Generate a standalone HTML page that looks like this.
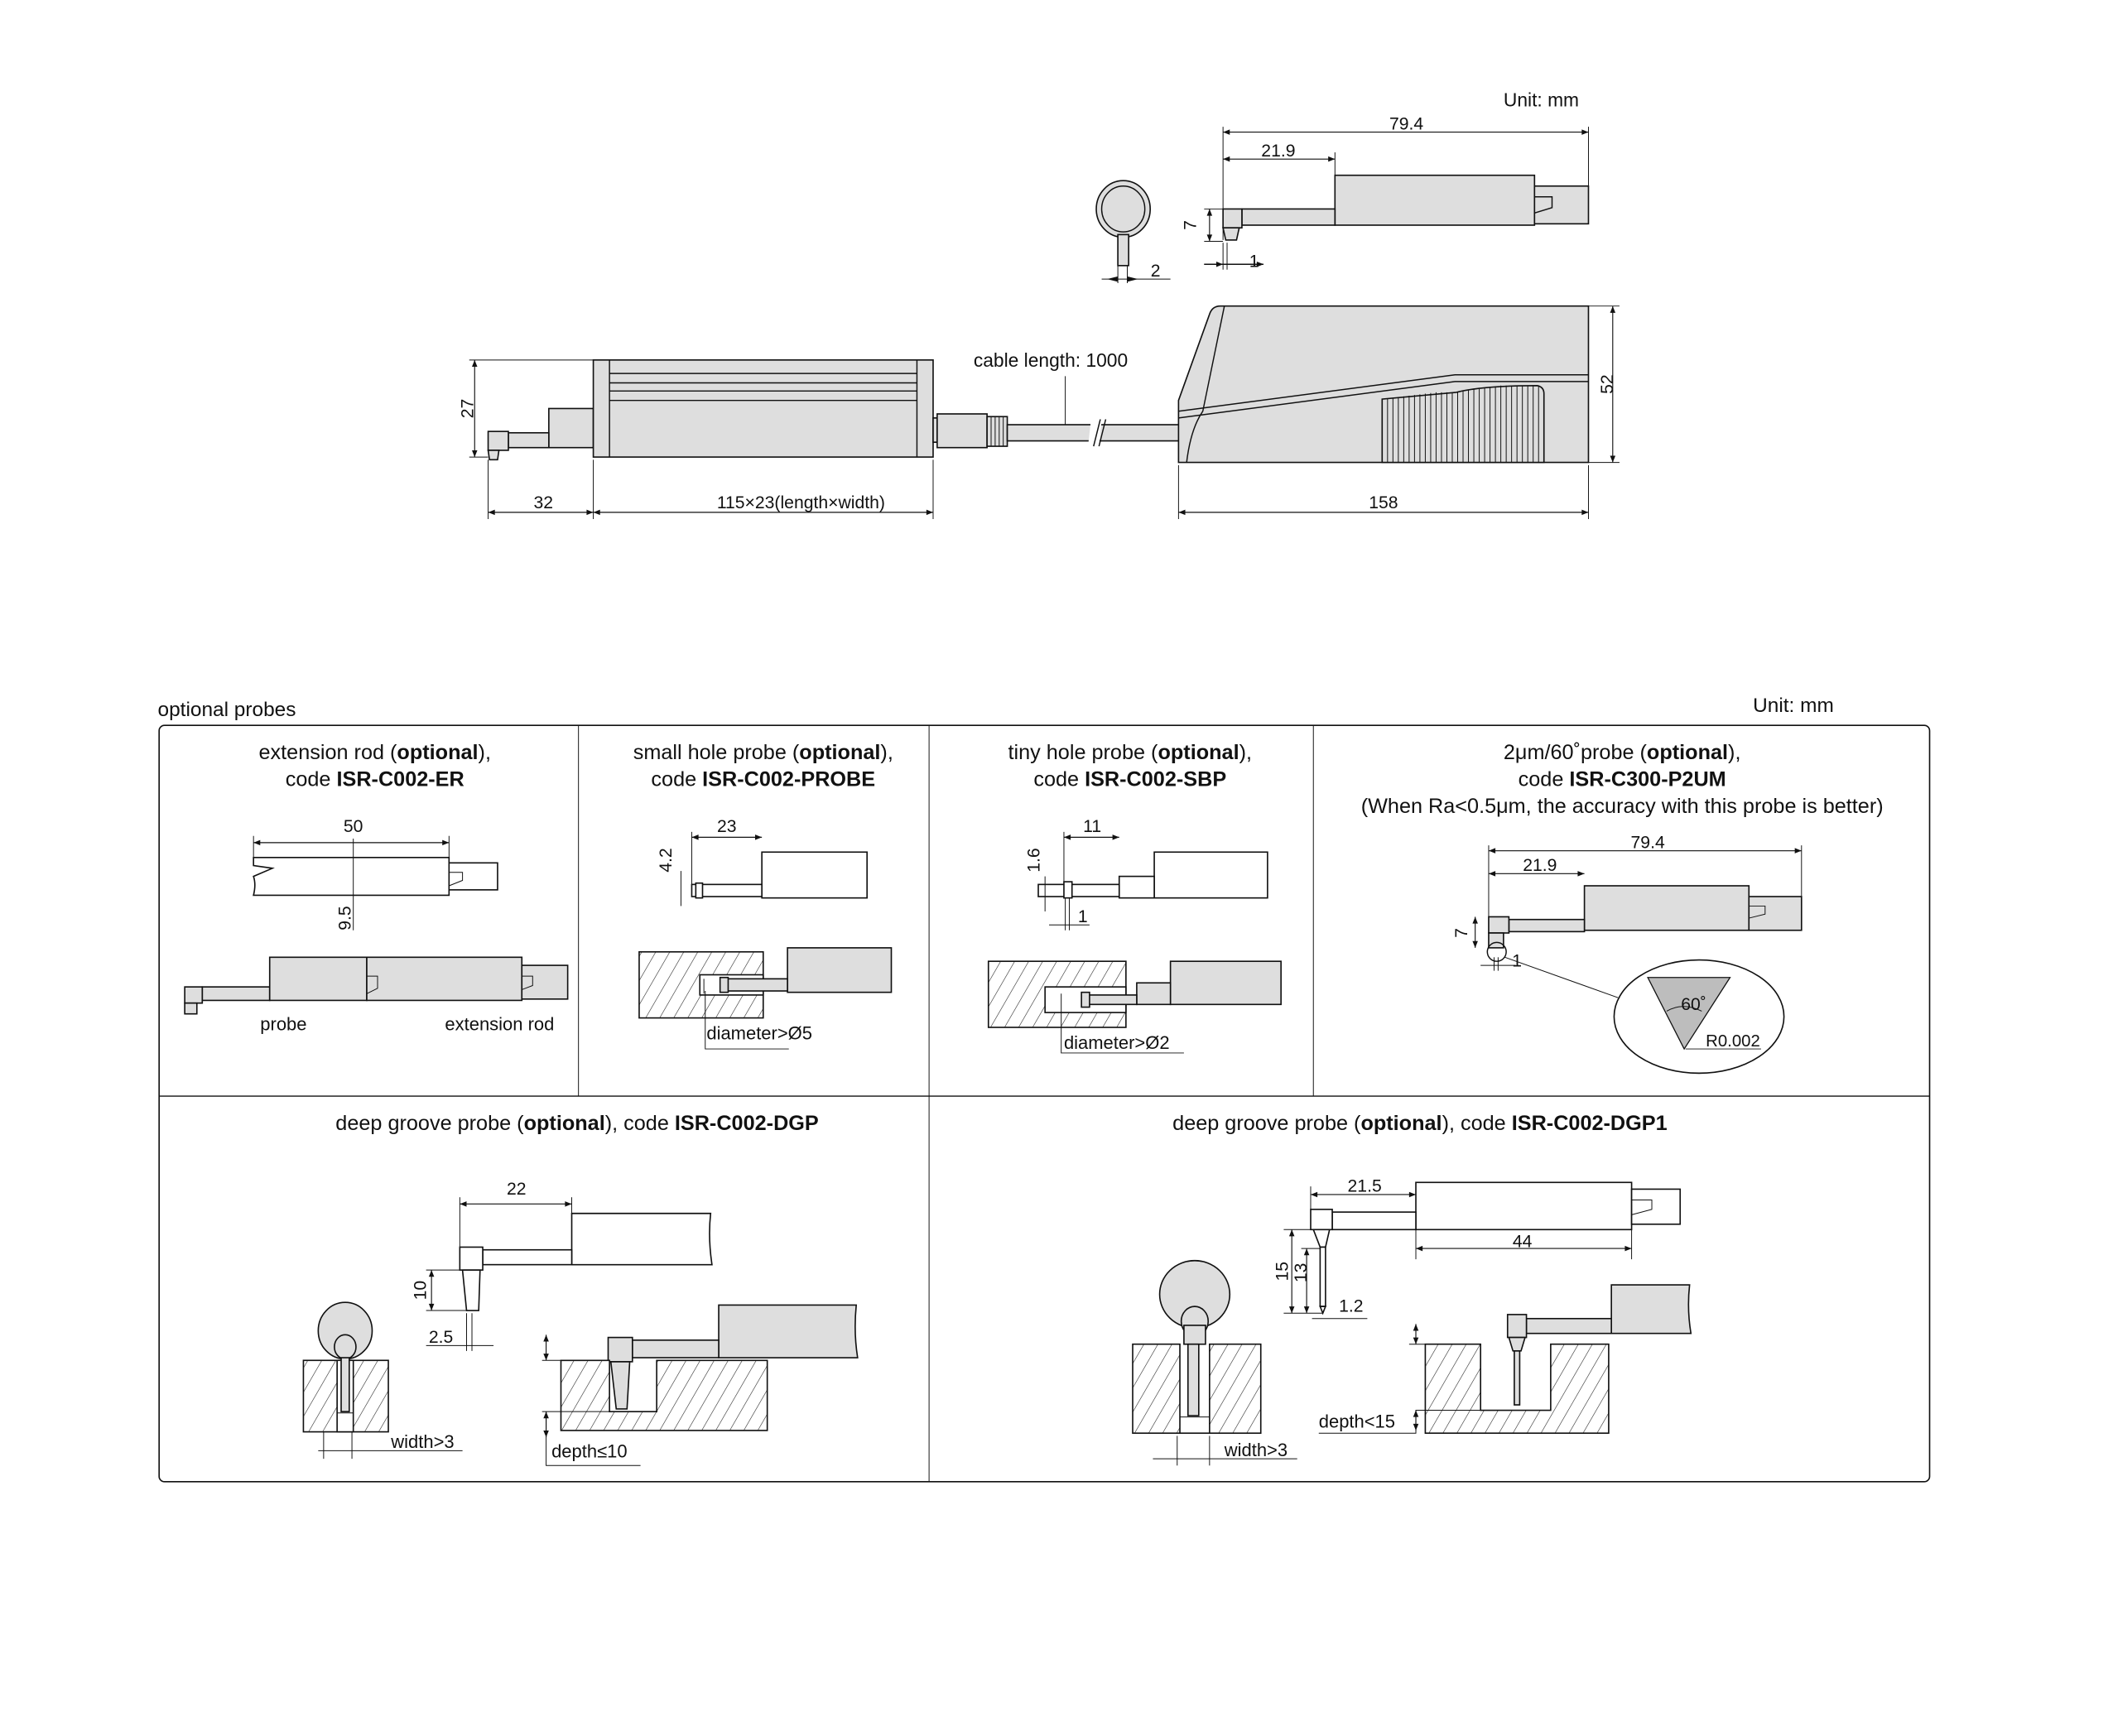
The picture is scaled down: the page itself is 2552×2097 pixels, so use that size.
<!DOCTYPE html>
<html><head><meta charset="utf-8"><style>
html,body{margin:0;padding:0;background:#fff}
svg{display:block}
text{font-family:"Liberation Sans",Arial,sans-serif;fill:#111}
.g{fill:#dedede;stroke:#111;stroke-width:1}
.w{fill:#fff;stroke:#111;stroke-width:1}
.l{fill:none;stroke:#111;stroke-width:0.9}
.t{fill:none;stroke:#111;stroke-width:0.6}
.d{fill:none;stroke:#111;stroke-width:0.7;marker-start:url(#a);marker-end:url(#a)}
.h{fill:url(#hatch);stroke:#111;stroke-width:1}
.tt{font-size:15.5px;text-anchor:middle}
.dm{font-size:13px;text-anchor:middle}
b,.b{font-weight:bold}
</style></head><body>
<svg width="2552" height="2097" viewBox="0 0 1567 1287.6" preserveAspectRatio="none" xmlns="http://www.w3.org/2000/svg">
<defs>
<marker id="a" viewBox="0 0 10 10" refX="10" refY="5" markerWidth="8" markerHeight="5" markerUnits="userSpaceOnUse" orient="auto-start-reverse"><path d="M0,1 L10,5 L0,9 z" fill="#111"/></marker>
<pattern id="hatch" patternUnits="userSpaceOnUse" width="9" height="9" patternTransform="rotate(30)"><rect width="9" height="9" fill="#fff"/><line x1="0" y1="0" x2="0" y2="9" stroke="#222" stroke-width="0.7"/></pattern>
</defs>

<!-- ===== TOP ===== -->
<text x="1115" y="79" font-size="14">Unit: mm</text>
<line class="t" x1="907" y1="94" x2="907" y2="178"/><line class="t" x1="1178" y1="94" x2="1178" y2="138"/><line class="t" x1="990" y1="113" x2="990" y2="130"/>
<line class="d" x1="907" y1="98" x2="1178" y2="98"/><text class="dm" x="1043" y="96">79.4</text>
<line class="d" x1="907" y1="118" x2="990" y2="118"/><text class="dm" x="948" y="116">21.9</text>
<rect class="g" x="990" y="130" width="148" height="37"/>
<rect class="g" x="1138" y="138" width="40" height="28"/>
<polyline class="l" points="1138,146 1151,146 1151,154 1138,158"/>
<rect class="g" x="921" y="155" width="69" height="12"/>
<rect class="g" x="907" y="155" width="14" height="14"/>
<polygon class="g" points="907,169 919,169 917,178 909,178"/>
<line class="t" x1="893" y1="155" x2="907" y2="155"/><line class="t" x1="893" y1="179" x2="907" y2="179"/>
<line class="d" x1="897" y1="155" x2="897" y2="179"/><text class="dm" transform="translate(887,167) rotate(-90)">7</text>
<line class="t" x1="907" y1="180" x2="907" y2="200"/><line class="t" x1="910" y1="180" x2="910" y2="200"/>
<line class="l" x1="893" y1="196" x2="937" y2="196" marker-end="url(#a)"/><line class="t" x1="893" y1="196" x2="907" y2="196" style="marker-end:url(#a)"/>
<text class="dm" x="930" y="198">1</text>
<ellipse class="g" cx="833" cy="155" rx="20" ry="21"/><ellipse class="l" cx="833" cy="155" rx="16" ry="17"/>
<rect class="g" x="829" y="174" width="8" height="23"/>
<line class="t" x1="829" y1="197" x2="829" y2="210"/><line class="t" x1="836" y1="197" x2="836" y2="210"/>
<line class="t" x1="817" y1="207" x2="868" y2="207"/>
<path d="M821,207 L829,205 L829,209 z M844,207 L836,205 L836,209 z" fill="#111"/>
<text class="dm" x="857" y="205">2</text>

<line class="t" x1="348" y1="267" x2="440" y2="267"/><line class="t" x1="348" y1="339" x2="362" y2="339"/>
<line class="d" x1="352" y1="267" x2="352" y2="339"/><text class="dm" transform="translate(351,303) rotate(-90)">27</text>
<rect class="g" x="407" y="303" width="33" height="29"/>
<rect class="g" x="377" y="321" width="30" height="11"/>
<rect class="g" x="362" y="320" width="15" height="14"/>
<polygon class="g" points="362,334 370,334 369,341 363,341"/>
<rect class="g" x="440" y="267" width="252" height="72"/>
<line class="l" x1="452" y1="267" x2="452" y2="339"/><line class="l" x1="680" y1="267" x2="680" y2="339"/>
<line class="l" x1="452" y1="277" x2="680" y2="277"/><line class="l" x1="452" y1="284" x2="680" y2="284"/><line class="l" x1="452" y1="290" x2="680" y2="290"/><line class="l" x1="452" y1="297" x2="680" y2="297"/>
<rect class="g" x="692" y="310" width="3" height="18"/>
<rect class="g" x="695" y="307" width="37" height="25"/>
<rect class="g" x="732" y="309" width="15" height="22"/>
<path class="t" d="M735,309v22M738,309v22M741,309v22M744,309v22"/>
<rect class="g" x="747" y="315" width="132" height="12"/>
<path d="M809,312 L817,312 L815,330 L807,330z" fill="#fff"/>
<line class="l" x1="811" y1="331" x2="816" y2="311"/><line class="l" x1="815" y1="331" x2="820" y2="311"/>
<line class="t" x1="790" y1="279" x2="790" y2="315"/>
<text x="722" y="272" font-size="14">cable length: 1000</text>
<line class="t" x1="362" y1="341" x2="362" y2="385"/><line class="t" x1="440" y1="341" x2="440" y2="385"/><line class="t" x1="692" y1="341" x2="692" y2="385"/>
<line class="d" x1="362" y1="380" x2="440" y2="380"/><text class="dm" x="403" y="377">32</text>
<line class="d" x1="440" y1="380" x2="692" y2="380"/><text class="dm" x="594" y="377">115×23(length×width)</text>

<path class="g" d="M874,343 L874,297 L897,233 Q899,227 905,227 L1178,227 L1178,343 Z"/>
<path class="l" d="M908,227 L892,305 Q883,318 880,343"/>
<polyline class="l" points="874,305 1079,278 1178,278"/>
<polyline class="l" points="874,310 1079,283 1178,283"/>
<path class="g" d="M1025,343 L1025,296 L1080,291 Q1100,286 1140,286 Q1145,287 1145,292 L1145,343 Z"/>
<path class="t" d="M1029,295.5v47.5M1033,295v48M1037,294.5v48.5M1041,294v49M1045,293.5v49.5M1049,293v50M1053,292.5v50.5M1057,292v51M1061,291.5v51.5M1065,291v52M1069,291v52M1073,291v52M1077,291v52M1081,290.5v52.5M1085,290v53M1089,289v54M1093,288.5v54.5M1097,288v55M1101,287.5v55.5M1105,287v56M1109,286.5v56.5M1113,286v57M1117,286v57M1121,286v57M1125,286v57M1129,286v57M1133,286v57M1137,286v57M1141,286v57"/>
<line class="t" x1="1178" y1="227" x2="1201" y2="227"/><line class="t" x1="1178" y1="343" x2="1201" y2="343"/>
<line class="d" x1="1196" y1="227" x2="1196" y2="343"/><text class="dm" transform="translate(1196,285) rotate(-90)">52</text>
<line class="t" x1="874" y1="345" x2="874" y2="385"/><line class="t" x1="1178" y1="345" x2="1178" y2="385"/>
<line class="d" x1="874" y1="380" x2="1178" y2="380"/><text class="dm" x="1026" y="377">158</text>

<!-- ===== TABLE ===== -->
<text x="117" y="531" font-size="15">optional probes</text>
<text x="1300" y="528" font-size="15">Unit: mm</text>
<rect x="118" y="538" width="1313" height="561" rx="4" fill="none" stroke="#111" stroke-width="1"/>
<line class="l" x1="118" y1="813" x2="1431" y2="813"/>
<line class="t" x1="429" y1="538" x2="429" y2="813"/><line class="t" x1="689" y1="538" x2="689" y2="1099"/><line class="t" x1="974" y1="538" x2="974" y2="813"/>

<text class="tt" x="278" y="563">extension rod (<tspan class="b">optional</tspan>),</text>
<text class="tt" x="278" y="583">code <tspan class="b">ISR-C002-ER</tspan></text>
<line class="d" x1="188" y1="625" x2="333" y2="625"/><text class="dm" x="262" y="617">50</text>
<line class="t" x1="188" y1="620" x2="188" y2="636"/><line class="t" x1="333" y1="620" x2="333" y2="636"/>
<path class="w" d="M188,636 L333,636 L333,664 L188,664 Q190,656 188,650 L202,644 L188,642 Z"/>
<rect class="w" x="333" y="640" width="36" height="20"/>
<polyline class="t" points="333,647 343,647 343,653 333,657"/>
<line class="t" x1="262" y1="622" x2="262" y2="690"/><text class="dm" transform="translate(260,681) rotate(-90)">9.5</text>
<rect class="g" x="150" y="732" width="50" height="10"/>
<rect class="g" x="137" y="732" width="13" height="12"/><rect class="g" x="137" y="744" width="9" height="8"/>
<rect class="g" x="200" y="710" width="72" height="32"/>
<rect class="g" x="272" y="710" width="115" height="32"/>
<polyline class="t" points="272,724 280,724 280,733 272,737"/>
<rect class="g" x="387" y="716" width="34" height="25"/>
<polyline class="t" points="387,724 395,724 395,731 387,734"/>
<text x="193" y="764" font-size="13.5">probe</text><text x="330" y="764" font-size="13.5">extension rod</text>

<text class="tt" x="566" y="563">small hole probe (<tspan class="b">optional</tspan>),</text>
<text class="tt" x="566" y="583">code <tspan class="b">ISR-C002-PROBE</tspan></text>
<line class="d" x1="513" y1="621" x2="565" y2="621"/><text class="dm" x="539" y="617">23</text>
<line class="t" x1="513" y1="617" x2="513" y2="660"/>
<rect class="w" x="565" y="632" width="78" height="34"/>
<rect class="w" x="513" y="656" width="52" height="9"/><rect class="w" x="516" y="655" width="5" height="11"/>
<line class="t" x1="505" y1="646" x2="505" y2="672"/><text class="dm" transform="translate(498,638) rotate(-90)">4.2</text>
<rect class="h" x="474" y="706" width="92" height="49"/>
<rect class="w" x="519" y="723" width="47" height="15"/>
<rect class="g" x="584" y="703" width="77" height="33"/>
<rect class="g" x="535" y="726" width="49" height="9"/><rect class="g" x="534" y="725" width="6" height="11"/>
<line class="t" x1="522" y1="726" x2="522" y2="737"/>
<polyline class="t" points="523,735 523,778 585,778"/><text x="524" y="771" font-size="13.5">diameter&gt;Ø5</text>

<text class="tt" x="838" y="563">tiny hole probe (<tspan class="b">optional</tspan>),</text>
<text class="tt" x="838" y="583">code <tspan class="b">ISR-C002-SBP</tspan></text>
<line class="d" x1="789" y1="621" x2="830" y2="621"/><text class="dm" x="810" y="617">11</text>
<line class="t" x1="789" y1="617" x2="789" y2="660"/>
<rect class="w" x="856" y="632" width="84" height="34"/>
<rect class="w" x="830" y="650" width="26" height="16"/>
<rect class="w" x="770" y="656" width="60" height="9"/><rect class="w" x="789" y="654" width="6" height="12"/>
<line class="t" x1="775" y1="650" x2="775" y2="676"/><text class="dm" transform="translate(771,638) rotate(-90)">1.6</text>
<line class="t" x1="790" y1="666" x2="790" y2="690"/><line class="t" x1="793" y1="666" x2="793" y2="690"/>
<line class="t" x1="778" y1="686" x2="808" y2="686"/><text class="dm" x="803" y="684">1</text>
<rect class="h" x="733" y="713" width="102" height="49"/>
<rect class="w" x="775" y="732" width="60" height="19"/>
<rect class="g" x="868" y="713" width="82" height="32"/>
<rect class="g" x="843" y="729" width="25" height="16"/>
<rect class="g" x="805" y="738" width="38" height="7"/><rect class="g" x="802" y="736" width="6" height="11"/>
<polyline class="t" points="787,737 787,781 878,781"/><text x="789" y="778" font-size="13.5">diameter&gt;Ø2</text>

<text class="tt" x="1203" y="563">2μm/60˚probe (<tspan class="b">optional</tspan>),</text>
<text class="tt" x="1203" y="583">code <tspan class="b">ISR-C300-P2UM</tspan></text>
<text class="tt" x="1203" y="603">(When Ra&lt;0.5μm, the accuracy with this probe is better)</text>
<line class="d" x1="1104" y1="631" x2="1336" y2="631"/><text class="dm" x="1222" y="629">79.4</text>
<line class="d" x1="1104" y1="648" x2="1175" y2="648"/><text class="dm" x="1142" y="646">21.9</text>
<line class="t" x1="1104" y1="627" x2="1104" y2="680"/><line class="t" x1="1336" y1="627" x2="1336" y2="665"/>
<rect class="g" x="1175" y="657" width="122" height="33"/>
<rect class="g" x="1297" y="665" width="39" height="25"/>
<polyline class="t" points="1297,672 1309,672 1309,678 1297,681"/>
<rect class="g" x="1119" y="682" width="56" height="9"/>
<rect class="g" x="1104" y="680" width="15" height="12"/><rect class="g" x="1104" y="692" width="11" height="11"/>
<line class="d" x1="1094" y1="680" x2="1094" y2="703"/><text class="dm" transform="translate(1088,692) rotate(-90)">7</text>
<circle class="l" cx="1110" cy="706" r="7"/>
<line class="t" x1="1108" y1="710" x2="1108" y2="720"/><line class="t" x1="1111" y1="710" x2="1111" y2="720"/>
<line class="t" x1="1098" y1="716" x2="1124" y2="716"/><text class="dm" x="1125" y="717">1</text>
<line class="t" x1="1116" y1="710" x2="1200" y2="740"/>
<ellipse class="w" cx="1260" cy="754" rx="63" ry="42"/>
<polygon points="1222,725 1283,725 1249,778" fill="#bdbdbd" stroke="#111" stroke-width="0.8"/>
<path class="t" d="M1236,750 Q1248,743 1262,750"/>
<text class="dm" x="1256" y="749">60˚</text>
<text x="1265" y="776" font-size="12.5">R0.002</text>
<line class="t" x1="1250" y1="778" x2="1306" y2="778"/>

<text class="tt" x="428" y="838">deep groove probe (<tspan class="b">optional</tspan>), code <tspan class="b">ISR-C002-DGP</tspan></text>
<line class="d" x1="341" y1="893" x2="424" y2="893"/><text class="dm" x="383" y="886">22</text>
<line class="t" x1="341" y1="888" x2="341" y2="925"/><line class="t" x1="424" y1="888" x2="424" y2="900"/>
<path class="w" d="M424,900 L527,900 Q525,918 528,938 L424,938 Z"/>
<rect class="w" x="358" y="927" width="66" height="11"/>
<rect class="w" x="341" y="925" width="17" height="17"/>
<polygon class="w" points="343,942 356,942 355,972 346,972"/>
<line class="t" x1="316" y1="942" x2="341" y2="942"/><line class="t" x1="316" y1="972" x2="346" y2="972"/>
<line class="d" x1="320" y1="942" x2="320" y2="972"/><text class="dm" transform="translate(316,957) rotate(-90)">10</text>
<line class="t" x1="346" y1="974" x2="346" y2="1002"/><line class="t" x1="350" y1="974" x2="350" y2="1002"/>
<line class="t" x1="316" y1="998" x2="366" y2="998"/><text class="dm" x="327" y="996">2.5</text>
<ellipse class="g" cx="256" cy="987" rx="20" ry="21"/>
<ellipse class="g" cx="256" cy="999" rx="8" ry="9"/>
<rect class="h" x="225" y="1009" width="63" height="53"/>
<rect class="w" x="250" y="1009" width="12" height="53" stroke="none"/>
<line class="t" x1="250" y1="1009" x2="250" y2="1048"/><line class="t" x1="262" y1="1009" x2="262" y2="1048"/>
<line class="t" x1="250" y1="1048" x2="262" y2="1048"/>
<rect class="g" x="253" y="1007" width="6" height="40"/>
<line class="t" x1="236" y1="1076" x2="343" y2="1076"/><line class="t" x1="240" y1="1062" x2="240" y2="1082"/><line class="t" x1="261" y1="1062" x2="261" y2="1082"/>
<text x="290" y="1074" font-size="13.5">width&gt;3</text>
<path class="g" d="M533,968 L635,968 Q633,988 636,1007 L533,1007 Z"/>
<rect class="g" x="469" y="994" width="64" height="13"/>
<rect class="g" x="451" y="992" width="18" height="18"/>
<polygon class="g" points="453,1010 467,1010 465,1045 457,1045"/>
<path class="h" d="M416,1009 L452,1009 L452,1047 L487,1047 L487,1009 L569,1009 L569,1061 L416,1061 Z"/>
<line class="t" x1="402" y1="1009" x2="416" y2="1009"/><line class="t" x1="402" y1="1047" x2="452" y2="1047"/>
<line class="d" x1="405" y1="990" x2="405" y2="1009"/><line class="d" x1="405" y1="1066" x2="405" y2="1047"/>
<polyline class="t" points="405,1047 405,1087 475,1087"/><text x="409" y="1081" font-size="13.5">depth≤10</text>

<text class="tt" x="1053" y="838">deep groove probe (<tspan class="b">optional</tspan>), code <tspan class="b">ISR-C002-DGP1</tspan></text>
<line class="d" x1="972" y1="886" x2="1050" y2="886"/><text class="dm" x="1012" y="884">21.5</text>
<line class="t" x1="972" y1="880" x2="972" y2="898"/>
<rect class="w" x="1050" y="877" width="160" height="35"/>
<rect class="w" x="1210" y="882" width="36" height="26"/>
<polyline class="t" points="1210,890 1225,890 1225,897 1210,901"/>
<rect class="w" x="988" y="899" width="62" height="13"/>
<rect class="w" x="972" y="897" width="16" height="15"/>
<polygon class="w" points="974,912 986,912 983,925 979,925"/>
<rect class="w" x="979" y="925" width="4" height="44"/>
<polygon class="w" points="979,969 983,969 981,974"/>
<line class="t" x1="1050" y1="912" x2="1050" y2="934"/><line class="t" x1="1210" y1="912" x2="1210" y2="934"/>
<line class="d" x1="1050" y1="926" x2="1210" y2="926"/><text class="dm" x="1129" y="925">44</text>
<line class="t" x1="952" y1="912" x2="974" y2="912"/><line class="t" x1="965" y1="926" x2="979" y2="926"/><line class="t" x1="952" y1="974" x2="981" y2="974"/>
<line class="d" x1="958" y1="912" x2="958" y2="974"/><text class="dm" transform="translate(955,943) rotate(-90)">15</text>
<line class="d" x1="969" y1="926" x2="969" y2="974"/><text class="dm" transform="translate(969,944) rotate(-90)">13</text>
<line class="t" x1="973" y1="978" x2="1014" y2="978"/><text class="dm" x="1002" y="973">1.2</text>
<ellipse class="g" cx="886" cy="960" rx="26" ry="25"/>
<ellipse class="g" cx="886" cy="980" rx="10" ry="11"/>
<rect class="g" x="878" y="983" width="16" height="14"/>
<path class="h" d="M840,997 L875,997 L875,1063 L897,1063 L897,997 L935,997 L935,1063 L840,1063 Z"/>
<line class="t" x1="875" y1="1051" x2="897" y2="1051"/>
<rect class="g" x="881" y="997" width="8" height="53"/>
<line class="t" x1="873" y1="1065" x2="873" y2="1087"/><line class="t" x1="897" y1="1065" x2="897" y2="1087"/>
<line class="t" x1="855" y1="1082" x2="962" y2="1082"/><text x="908" y="1080" font-size="13.5">width&gt;3</text>
<path class="g" d="M1195,953 L1253,953 Q1251,971 1254,989 L1195,989 Z"/>
<rect class="g" x="1132" y="978" width="63" height="11"/>
<rect class="g" x="1118" y="975" width="14" height="17"/>
<polygon class="g" points="1119,992 1131,992 1128,1002 1122,1002"/>
<rect class="g" x="1123" y="1002" width="4" height="40"/>
<path class="h" d="M1057,997 L1098,997 L1098,1046 L1150,1046 L1150,997 L1193,997 L1193,1063 L1057,1063 Z"/>
<line class="t" x1="1045" y1="997" x2="1057" y2="997"/>
<line class="d" x1="1050" y1="982" x2="1050" y2="997"/><line class="d" x1="1050" y1="1061" x2="1050" y2="1046"/>
<polyline class="t" points="978,1063 1050,1063 1050,1046 1100,1046"/>
<text x="978" y="1059" font-size="13.5">depth&lt;15</text>
</svg>
</body></html>
